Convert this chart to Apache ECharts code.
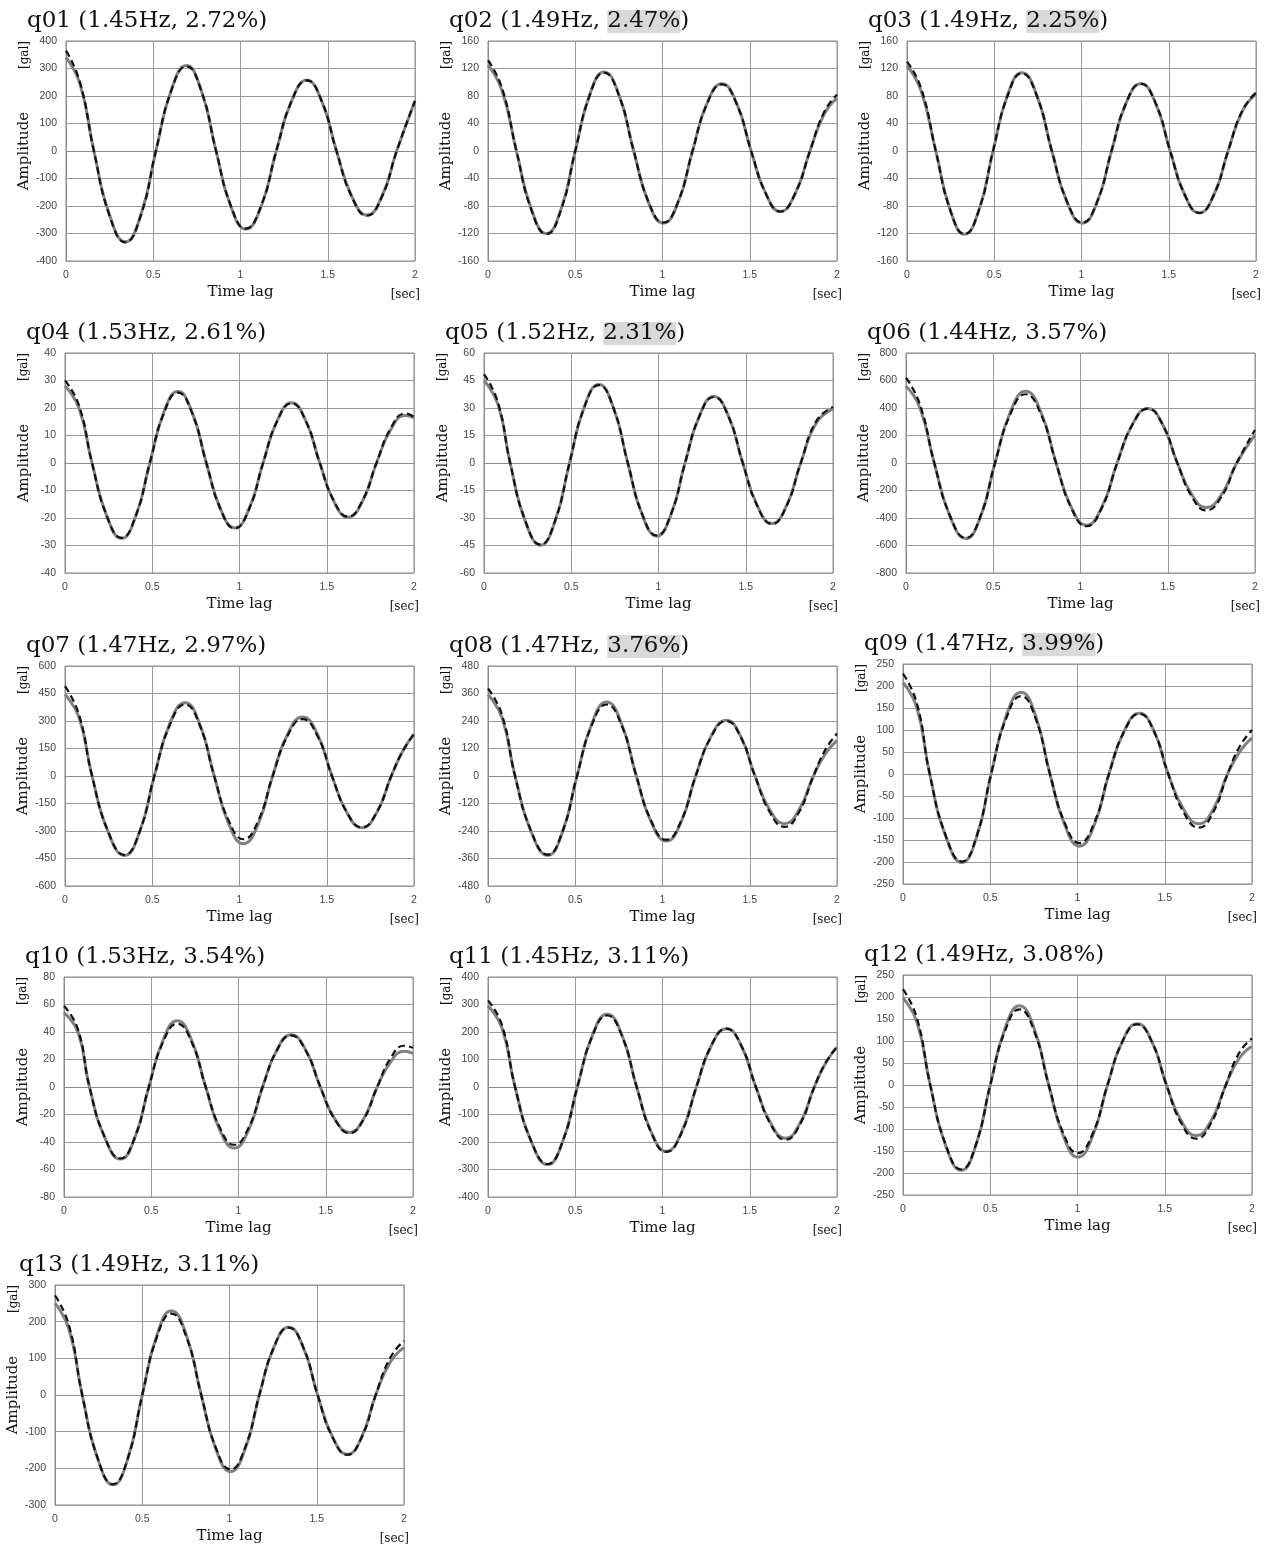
<!DOCTYPE html>
<html>
<head>
<meta charset="utf-8">
<script src="https://cdn.jsdelivr.net/npm/echarts@6/dist/echarts.min.js"></script>
<style>
  html, body { margin: 0; padding: 0; background: #fff; }
  #main { width: 1272px; height: 1548px; }
</style>
</head>
<body>
<div id="main"></div>
<script>
// 各観測点の名前・卓越振動数・減衰定数
var panelNames = ['q01', 'q02', 'q03', 'q04', 'q05', 'q06', 'q07', 'q08', 'q09', 'q10', 'q11', 'q12', 'q13'];
var freqLabels = ['1.45Hz', '1.49Hz', '1.49Hz', '1.53Hz', '1.52Hz', '1.44Hz', '1.47Hz', '1.47Hz', '1.47Hz', '1.53Hz', '1.45Hz', '1.49Hz', '1.49Hz'];
var dampLabels = ['2.72%', '2.47%', '2.25%', '2.61%', '2.31%', '3.57%', '2.97%', '3.76%', '3.99%', '3.54%', '3.11%', '3.08%', '3.11%'];
var dampMarked = [false, true, true, false, true, false, false, true, true, false, false, false, false];

// y軸の範囲と目盛間隔 [gal]
var yMax  = [400, 160, 160, 40, 60, 800, 600, 480, 250, 80, 400, 250, 300];
var yStep = [100, 40, 40, 10, 15, 200, 150, 120, 50, 20, 100, 50, 100];

// x軸 (Time lag [sec])
var timeMax = 2;
var timeStep = 0.5;

// 読み取り点 : 時刻, 実線(観測), 破線(同定)
var t01 = [0, 0.08, 0.16, 0.25, 0.34, 0.428, 0.515, 0.603, 0.69, 0.775, 0.86, 0.945, 1.03, 1.118, 1.205, 1.293, 1.38, 1.465, 1.55, 1.638, 1.725, 1.81, 1.895, 2];
var s01 = [340, 245, 0, -234, -330, -234, 0, 221, 311, 221, 0, -202, -284, -202, 0, 182, 257, 182, 0, -165, -233, -165, 0, 182];
var d01 = [365, 250, 0, -236, -332, -236, 0, 219, 308, 219, 0, -200, -282, -200, 0, 182, 257, 182, 0, -167, -235, -167, 0, 182];

var t02 = [0, 0.08, 0.163, 0.249, 0.335, 0.418, 0.5, 0.583, 0.665, 0.75, 0.835, 0.92, 1.005, 1.089, 1.172, 1.256, 1.34, 1.424, 1.508, 1.592, 1.675, 1.76, 1.845, 1.925, 2];
var s02 = [125, 88, 0, -85, -120, -85, 0, 82, 115, 82, 0, -75, -105, -75, 0, 70, 98, 70, 0, -62, -88, -62, 0, 53, 77];
var d02 = [132, 92, 0, -86, -121, -86, 0, 81, 114, 81, 0, -74, -104, -74, 0, 69, 97, 69, 0, -62, -88, -62, 0, 56, 82];

var t03 = [0, 0.08, 0.165, 0.248, 0.33, 0.412, 0.493, 0.576, 0.658, 0.744, 0.83, 0.918, 1.005, 1.089, 1.172, 1.256, 1.34, 1.424, 1.508, 1.592, 1.675, 1.758, 1.84, 1.92, 2];
var s03 = [124, 88, 0, -86, -121, -86, 0, 81, 114, 81, 0, -75, -105, -75, 0, 70, 98, 70, 0, -64, -90, -64, 0, 57, 83];
var d03 = [130, 92, 0, -86, -121, -86, 0, 80, 113, 80, 0, -74, -104, -74, 0, 70, 98, 70, 0, -64, -90, -64, 0, 58, 85];

var t04 = [0, 0.08, 0.155, 0.24, 0.324, 0.405, 0.486, 0.567, 0.647, 0.728, 0.81, 0.892, 0.973, 1.054, 1.135, 1.217, 1.298, 1.379, 1.46, 1.541, 1.622, 1.704, 1.785, 1.868, 1.95, 2];
var s04 = [28, 20, 0, -19.4, -27.4, -19.4, 0, 18.5, 26, 18.5, 0, -16.8, -23.6, -16.8, 0, 15.5, 21.9, 15.5, 0, -14, -19.7, -14, 0, 12.3, 17.3, 16.4];
var d04 = [30, 21, 0, -19.3, -27.2, -19.3, 0, 18.2, 25.6, 18.2, 0, -16.9, -23.8, -16.9, 0, 15.4, 21.7, 15.4, 0, -13.8, -19.5, -13.8, 0, 12.8, 18, 16.8];

var t05 = [0, 0.08, 0.15, 0.237, 0.324, 0.407, 0.49, 0.574, 0.658, 0.741, 0.824, 0.907, 0.99, 1.071, 1.152, 1.235, 1.317, 1.4, 1.483, 1.567, 1.65, 1.733, 1.815, 1.905, 2];
var s05 = [45, 32, 0, -31.8, -44.8, -31.8, 0, 30.4, 42.8, 30.4, 0, -28.3, -39.9, -28.3, 0, 25.8, 36.3, 25.8, 0, -23.4, -33, -23.4, 0, 22, 29.5];
var d05 = [48.5, 33, 0, -31.6, -44.5, -31.6, 0, 30.2, 42.5, 30.2, 0, -28, -39.5, -28, 0, 25.6, 36, 25.6, 0, -23.6, -33.3, -23.6, 0, 23, 30.5];

var t06 = [0, 0.08, 0.162, 0.253, 0.343, 0.427, 0.51, 0.598, 0.685, 0.773, 0.86, 0.947, 1.034, 1.122, 1.21, 1.298, 1.386, 1.47, 1.555, 1.638, 1.72, 1.808, 1.895, 2];
var s06 = [560, 400, 0, -390, -549, -390, 0, 371, 522, 371, 0, -321, -452, -321, 0, 282, 397, 282, 0, -230, -324, -230, 0, 205];
var d06 = [620, 425, 0, -387, -545, -387, 0, 355, 500, 355, 0, -327, -460, -327, 0, 280, 395, 280, 0, -245, -345, -245, 0, 240];

var t07 = [0, 0.08, 0.155, 0.248, 0.341, 0.427, 0.512, 0.6, 0.688, 0.772, 0.855, 0.939, 1.023, 1.107, 1.19, 1.276, 1.361, 1.446, 1.53, 1.616, 1.702, 1.786, 1.87, 1.935, 2];
var s07 = [445, 320, 0, -307, -433, -307, 0, 284, 400, 284, 0, -262, -369, -262, 0, 229, 322, 229, 0, -200, -282, -200, 0, 135, 230];
var d07 = [490, 335, 0, -305, -430, -305, 0, 277, 390, 277, 0, -245, -345, -245, 0, 220, 310, 220, 0, -199, -280, -199, 0, 135, 228];

var t08 = [0, 0.08, 0.155, 0.249, 0.342, 0.426, 0.51, 0.595, 0.68, 0.765, 0.85, 0.936, 1.022, 1.106, 1.19, 1.278, 1.366, 1.448, 1.53, 1.615, 1.699, 1.782, 1.865, 1.932, 2];
var s08 = [355, 255, 0, -246, -346, -246, 0, 229, 323, 229, 0, -202, -284, -202, 0, 173, 243, 173, 0, -148, -208, -148, 0, 95, 155];
var d08 = [382, 268, 0, -244, -343, -244, 0, 222, 312, 222, 0, -197, -278, -197, 0, 170, 240, 170, 0, -158, -222, -158, 0, 113, 185];

var t09 = [0, 0.08, 0.153, 0.246, 0.338, 0.422, 0.505, 0.591, 0.677, 0.76, 0.842, 0.927, 1.011, 1.096, 1.18, 1.268, 1.355, 1.438, 1.52, 1.608, 1.695, 1.778, 1.86, 1.93, 2];
var s09 = [208, 150, 0, -143, -201, -143, 0, 132, 186, 132, 0, -116, -164, -116, 0, 98, 138, 98, 0, -80, -113, -80, 0, 51, 82];
var d09 = [228, 160, 0, -141, -199, -141, 0, 126, 177, 126, 0, -111, -157, -111, 0, 97, 137, 97, 0, -87, -122, -87, 0, 63, 100];

var t10 = [0, 0.08, 0.146, 0.235, 0.323, 0.405, 0.486, 0.568, 0.649, 0.731, 0.812, 0.894, 0.975, 1.057, 1.138, 1.22, 1.301, 1.385, 1.469, 1.553, 1.637, 1.716, 1.795, 1.873, 1.95, 2];
var s10 = [54, 40, 0, -37.2, -52.4, -37.2, 0, 34.2, 48.2, 34.2, 0, -31.5, -44.4, -31.5, 0, 27, 38, 27, 0, -23.4, -33, -23.4, 0, 18.5, 26, 24.5];
var d10 = [59, 42, 0, -36.9, -52, -36.9, 0, 32.7, 46, 32.7, 0, -29.8, -42, -29.8, 0, 26.6, 37.5, 26.6, 0, -23.8, -33.5, -23.8, 0, 21.3, 30, 28.5];

var t11 = [0, 0.08, 0.155, 0.249, 0.342, 0.427, 0.512, 0.598, 0.683, 0.768, 0.852, 0.937, 1.022, 1.108, 1.194, 1.28, 1.366, 1.451, 1.535, 1.62, 1.705, 1.788, 1.87, 1.935, 2];
var s11 = [295, 215, 0, -200, -282, -200, 0, 188, 265, 188, 0, -166, -234, -166, 0, 151, 212, 151, 0, -132, -186, -132, 0, 87, 145];
var d11 = [315, 225, 0, -199, -280, -199, 0, 185, 260, 185, 0, -168, -236, -168, 0, 151, 212, 151, 0, -136, -192, -136, 0, 88, 146];

var t12 = [0, 0.08, 0.156, 0.245, 0.334, 0.417, 0.5, 0.584, 0.668, 0.752, 0.835, 0.919, 1.002, 1.087, 1.172, 1.257, 1.342, 1.426, 1.51, 1.595, 1.68, 1.765, 1.85, 1.925, 2];
var s12 = [198, 143, 0, -138, -194, -138, 0, 128, 180, 128, 0, -116, -164, -116, 0, 99, 139, 99, 0, -82, -115, -82, 0, 60, 88];
var d12 = [218, 152, 0, -136, -192, -136, 0, 122, 172, 122, 0, -110, -155, -110, 0, 98, 138, 98, 0, -87, -122, -87, 0, 72, 106];

var t13 = [0, 0.08, 0.156, 0.245, 0.333, 0.417, 0.5, 0.584, 0.667, 0.753, 0.838, 0.922, 1.006, 1.089, 1.171, 1.255, 1.339, 1.422, 1.505, 1.591, 1.676, 1.757, 1.838, 1.919, 2];
var s13 = [250, 180, 0, -174, -245, -174, 0, 163, 230, 163, 0, -148, -209, -148, 0, 131, 185, 131, 0, -115, -162, -115, 0, 88, 130];
var d13 = [272, 190, 0, -173, -243, -173, 0, 158, 222, 158, 0, -144, -203, -144, 0, 131, 184, 131, 0, -116, -163, -116, 0, 100, 148];

var lagTimes   = [t01, t02, t03, t04, t05, t06, t07, t08, t09, t10, t11, t12, t13];
var solidVals  = [s01, s02, s03, s04, s05, s06, s07, s08, s09, s10, s11, s12, s13];
var dashedVals = [d01, d02, d03, d04, d05, d06, d07, d08, d09, d10, d11, d12, d13];

function pairs(t, v) {
  var out = [];
  for (var i = 0; i < t.length; i++) out.push([t[i], v[i]]);
  return out;
}

var myChart = echarts.init(document.getElementById('main'));

// 配置
var lefts = [66, 488, 907, 65, 484, 906, 65, 488, 903, 64, 488, 903, 55];
var tops  = [41, 41, 41, 353, 353, 353, 666, 666, 664, 977, 977, 975, 1285];
var W = 349, H = 220;
var serif = '"DejaVu Serif", serif';

var grids = [], xAxes = [], yAxes = [], series = [], titles = [], graphics = [];

for (var i = 0; i < panelNames.length; i++) {
  var gl = lefts[i], gt = tops[i];
  grids.push({
    left: gl, top: gt, width: W, height: H,
    show: true, borderColor: '#8c8c8c', borderWidth: 1, backgroundColor: '#fff'
  });
  xAxes.push({
    gridIndex: i, type: 'value', min: 0, max: timeMax, interval: timeStep,
    name: 'Time lag', nameLocation: 'middle', nameGap: 24,
    nameTextStyle: { fontFamily: serif, fontSize: 15, color: '#111' },
    axisLine: { show: true, lineStyle: { color: '#8c8c8c' } },
    axisTick: { show: false },
    axisLabel: { fontFamily: 'Liberation Sans', fontSize: 10.5, color: '#444', margin: 9 },
    splitLine: { show: true, lineStyle: { color: '#9a9a9a', width: 1 } }
  });
  yAxes.push({
    gridIndex: i, type: 'value', min: -yMax[i], max: yMax[i], interval: yStep[i],
    name: 'Amplitude', nameLocation: 'middle', nameGap: 33,
    nameTextStyle: { fontFamily: serif, fontSize: 15, color: '#111' },
    axisLine: { show: true, lineStyle: { color: '#8c8c8c' } },
    axisTick: { show: false },
    axisLabel: { fontFamily: 'Liberation Sans', fontSize: 10.5, color: '#444', margin: 9 },
    splitLine: { show: true, lineStyle: { color: '#9a9a9a', width: 1 } }
  });
  series.push({
    name: panelNames[i] + ' obs', type: 'line', xAxisIndex: i, yAxisIndex: i,
    data: pairs(lagTimes[i], solidVals[i]), smooth: 0.5, showSymbol: false,
    lineStyle: { color: '#808080', width: 3 }, z: 2
  });
  series.push({
    name: panelNames[i] + ' fit', type: 'line', xAxisIndex: i, yAxisIndex: i,
    data: pairs(lagTimes[i], dashedVals[i]), smooth: 0.5, showSymbol: false,
    lineStyle: { color: '#111', width: 2.2, type: [7, 4] }, z: 3
  });
  var damp = dampMarked[i] ? '{h|' + dampLabels[i] + '}' : '{a|' + dampLabels[i] + '}';
  titles.push({
    left: gl - (i === 12 ? 36 : 39), top: gt - 35, padding: 0,
    text: '{a|' + panelNames[i] + ' (' + freqLabels[i] + ', }' + damp + '{a|)}',
    textStyle: {
      fontWeight: 'normal',
      rich: {
        a: { fontFamily: serif, fontSize: 23, fontWeight: 'normal', color: '#111', lineHeight: 31 },
        h: { fontFamily: serif, fontSize: 23, fontWeight: 'normal', color: '#111', lineHeight: 31, backgroundColor: '#d9d9d9' }
      }
    }
  });
  graphics.push({
    type: 'text', x: gl - 41, y: gt + 14, rotation: Math.PI / 2,
    style: { text: '[gal]', font: '12px ' + serif, fill: '#111', align: 'center', verticalAlign: 'middle' }
  });
  graphics.push({
    type: 'text', x: gl + W + 5, y: gt + H + 34,
    style: { text: '[sec]', font: '12px ' + serif, fill: '#111', align: 'right', verticalAlign: 'middle' }
  });
}

var option = {
  backgroundColor: '#fff',
  animation: false,
  title: titles,
  grid: grids,
  xAxis: xAxes,
  yAxis: yAxes,
  series: series,
  graphic: graphics
};
myChart.setOption(option);
</script>
</body>
</html>
